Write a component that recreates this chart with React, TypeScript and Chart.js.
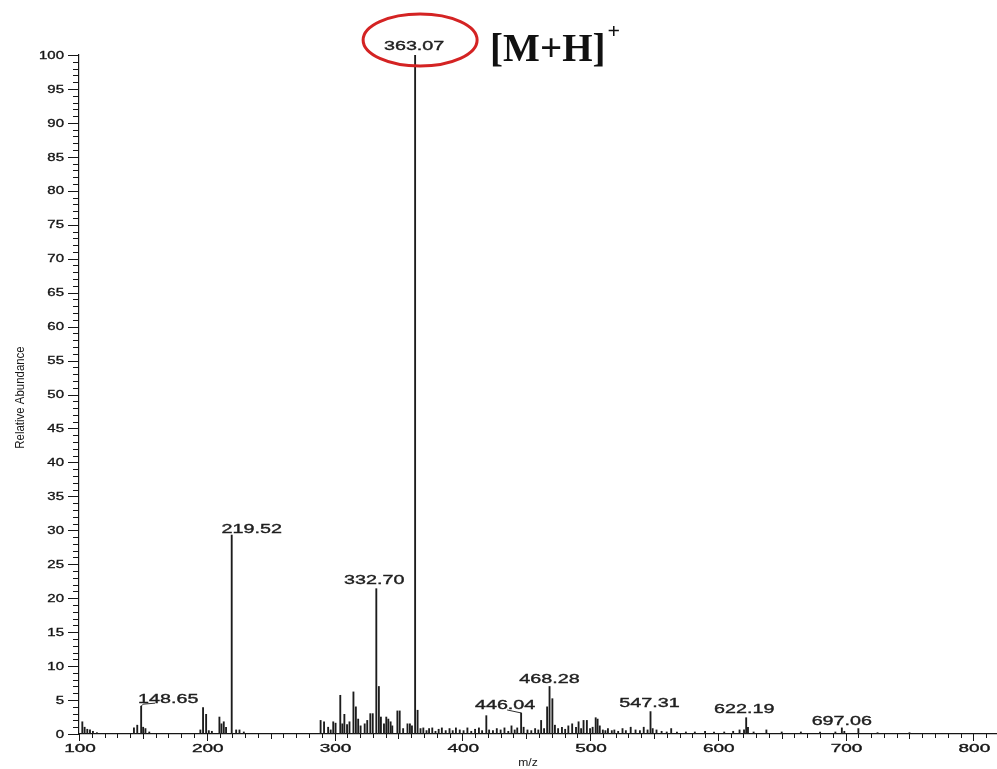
import { useEffect, useRef } from "react";
import { Chart, registerables } from "chart.js";

Chart.register(...registerables);

// ---- spectrum data (m/z, relative abundance %) ----
const mzValues: number[] = [
  102.6, 104.4, 106.5, 108.6, 110.9, 114.0,
  143.0, 145.6, 148.65, 150.2, 152.0, 155.0,
  195.0, 197.1, 199.5, 201.6, 204.0, 209.9, 211.5, 213.3, 215.1, 219.52, 223.0, 225.6, 229.0,
  289.1, 291.8, 295.0, 297.0, 299.0, 300.8, 304.5, 306.1, 307.7, 309.8, 311.7, 314.8, 316.7,
  318.5, 320.4, 323.6, 325.6, 328.0, 329.9, 332.7, 334.7, 336.3, 338.7, 340.5, 342.1, 343.9,
  345.2, 349.2, 351.0, 353.7, 357.1, 359.0, 360.6, 363.07, 365.0, 367.3, 369.5, 372.0, 374.0,
  376.5, 379.0, 381.5, 384.0, 387.0, 390.0, 392.5, 395.0, 398.0, 401.0, 404.0, 407.0, 410.0,
  413.0, 415.5, 418.8, 421.0, 424.0, 427.0, 430.0, 433.0, 436.0, 438.5, 441.0, 443.0, 446.04,
  448.0, 451.0, 454.0, 457.0, 459.5, 461.7, 464.0, 466.4, 468.28, 470.5, 472.5, 475.0, 478.0,
  480.5, 483.0, 486.0, 489.0, 491.0, 493.0, 494.9, 497.5, 500.0, 502.0, 504.4, 505.9, 507.6,
  510.0, 512.0, 514.0, 517.0, 519.0, 522.0, 525.4, 528.0, 531.8, 535.6, 539.0, 542.0, 545.0,
  547.31, 549.0, 552.0, 556.0, 560.0, 563.5, 568.0, 575.0, 582.0, 590.0, 597.0, 605.0, 612.0,
  617.0, 620.5, 622.19, 623.6, 628.0, 638.0, 650.0, 665.0, 680.0, 692.0, 697.06, 699.0, 710.0,
  725.0, 750.0,
];

const abundance: number[] = [
  1.8, 1.0, 0.7, 0.6, 0.4, 0.2,
  0.9, 1.3, 4.1, 1.0, 0.8, 0.3,
  0.6, 3.9, 2.9, 0.5, 0.4, 2.5, 1.5, 1.8, 1.0, 29.3, 0.6, 0.6, 0.3,
  2.0, 1.8, 1.0, 0.6, 1.8, 1.6, 5.7, 1.5, 2.9, 1.4, 1.8, 6.2, 4.0,
  2.2, 1.2, 1.5, 2.0, 3.0, 3.0, 21.4, 7.0, 2.5, 1.5, 2.5, 2.2, 1.8,
  1.2, 3.4, 3.4, 0.8, 1.5, 1.5, 1.2, 100, 3.5, 0.8, 0.9, 0.5, 0.8,
  0.9, 0.4, 0.7, 0.9, 0.5, 0.8, 0.5, 0.9, 0.6, 0.5, 0.9, 0.4, 0.7,
  0.9, 0.5, 2.7, 0.6, 0.5, 0.8, 0.6, 0.9, 0.4, 1.2, 0.6, 0.9, 3.1,
  1.0, 0.6, 0.5, 0.8, 0.6, 2.0, 0.8, 4.0, 7.0, 5.2, 1.3, 0.8, 1.0,
  0.7, 1.2, 1.5, 1.0, 1.8, 0.8, 2.0, 2.0, 0.8, 1.0, 2.4, 2.2, 1.2,
  0.6, 0.5, 0.8, 0.5, 0.6, 0.4, 0.8, 0.5, 1.0, 0.6, 0.5, 1.0, 0.6,
  3.3, 0.8, 0.6, 0.4, 0.3, 0.8, 0.3, 0.3, 0.3, 0.4, 0.3, 0.3, 0.4,
  0.6, 0.6, 2.4, 1.0, 0.3, 0.6, 0.3, 0.3, 0.3, 0.3, 0.9, 0.4, 0.8,
  0.2, 0.2,
];

// annotated peaks
const labeledMz: number[] = [148.65, 219.52, 332.7, 363.07, 446.04, 468.28, 547.31, 622.19, 697.06];
const labeledText: string[] = ["148.65", "219.52", "332.70", "363.07", "446.04", "468.28", "547.31", "622.19", "697.06"];

// axis tick labels
const yTickLabels: string[] = ["0", "5", "10", "15", "20", "25", "30", "35", "40", "45", "50", "55", "60", "65", "70", "75", "80", "85", "90", "95", "100"];
const xTickLabels: string[] = ["100", "200", "300", "400", "500", "600", "700", "800"];

const ionLabel = "[M+H]";
const ionCharge = "+";

// ---- styling / layout ----
const INK = "#161616";
const LABEL_FONT = "12.5px 'Liberation Sans', Arial, sans-serif";
const TICK_FONT = "11.5px 'Liberation Sans', Arial, sans-serif";

// pixel offsets of each peak label centre from its peak top
const labelOffsets: Record<string, [number, number, boolean]> = {
  "148.65": [27, -7, true],
  "219.52": [20, -6, false],
  "332.70": [-2, -8, false],
  "363.07": [-1, -8, false],
  "446.04": [-16, -7, true],
  "468.28": [0, -7, false],
  "547.31": [-1, -8, false],
  "622.19": [-2, -8, false],
  "697.06": [0, -6, false],
};

// draws text stretched horizontally, with a hairline outline for a heavier stroke
function stretchedText(
  ctx: CanvasRenderingContext2D,
  text: string,
  x: number,
  y: number,
  sx: number,
  align: CanvasTextAlign
) {
  ctx.save();
  ctx.translate(x, y);
  ctx.scale(sx, 1);
  ctx.textAlign = align;
  ctx.textBaseline = "middle";
  ctx.fillText(text, 0, 0);
  ctx.lineWidth = 0.35;
  ctx.strokeStyle = ctx.fillStyle as string;
  ctx.strokeText(text, 0, 0);
  ctx.restore();
}

const spectrumDecor = {
  id: "spectrumDecor",
  afterDraw(chart: any) {
    const { ctx, chartArea } = chart;
    const xs = chart.scales.x;
    const ys = chart.scales.y;
    ctx.save();
    ctx.strokeStyle = INK;
    ctx.fillStyle = INK;
    ctx.lineWidth = 1;

    // y-axis ticks: minor every 1, major every 5
    const left = chartArea.left;
    ctx.beginPath();
    for (let v = 0; v <= 100; v++) {
      const py = Math.round(ys.getPixelForValue(v)) + 0.5;
      const len = v % 5 === 0 ? 11 : 6;
      ctx.moveTo(left - len, py);
      ctx.lineTo(left, py);
    }
    ctx.stroke();

    ctx.font = TICK_FONT;
    yTickLabels.forEach((t) => {
      const py = ys.getPixelForValue(Number(t));
      stretchedText(ctx, t, left - 15, py + 0.5, 1.3, "right");
    });

    // x-axis ticks: minor every 10, major every 100
    const bottom = chartArea.bottom;
    ctx.beginPath();
    for (let v = 100; v <= xs.max; v += 10) {
      const px = Math.round(xs.getPixelForValue(v)) + 0.5;
      const len = v % 100 === 0 ? 7 : v % 50 === 0 ? 5 : 4;
      ctx.moveTo(px, bottom);
      ctx.lineTo(px, bottom + len);
    }
    ctx.stroke();

    xTickLabels.forEach((t) => {
      const px = xs.getPixelForValue(Number(t));
      stretchedText(ctx, t, px + 1, bottom + 15, 1.65, "center");
    });

    // axis titles
    ctx.font = "11px 'Liberation Sans', Arial, sans-serif";
    ctx.textAlign = "center";
    ctx.textBaseline = "middle";
    ctx.save();
    ctx.translate((chartArea.left + chartArea.right) / 2 - 10, bottom + 29);
    ctx.scale(1.1, 1);
    ctx.fillText("m/z", 0, 0);
    ctx.restore();

    ctx.save();
    ctx.translate(20, (chartArea.top + bottom) / 2 + 3);
    ctx.rotate(-Math.PI / 2);
    ctx.font = "13px 'Liberation Sans', Arial, sans-serif";
    ctx.scale(0.88, 1);
    ctx.textAlign = "center";
    ctx.textBaseline = "middle";
    ctx.fillText("Relative Abundance", 0, 0);
    ctx.restore();

    // peak labels
    ctx.font = LABEL_FONT;
    labeledMz.forEach((mz, i) => {
      const text = labeledText[i];
      const idx = mzValues.indexOf(mz);
      const px = xs.getPixelForValue(mz);
      const top = ys.getPixelForValue(abundance[idx]);
      const [dx, dy, leader] = labelOffsets[text];
      const cx = px + dx;
      const cy = top + dy;
      ctx.fillStyle = "#202020";
      stretchedText(ctx, text, cx, cy, 1.58, "center");
      if (leader) {
        ctx.beginPath();
        ctx.lineWidth = 0.9;
        ctx.strokeStyle = INK;
        if (dx > 0) {
          ctx.moveTo(px, top);
          ctx.lineTo(px + 2, cy + 5);
          ctx.lineTo(px + 14, cy + 4);
        } else {
          ctx.moveTo(cx + 2, cy + 4);
          ctx.lineTo(px, top);
        }
        ctx.stroke();
      }
    });

    // molecular ion highlight
    const basePx = xs.getPixelForValue(363.07);
    const basePy = ys.getPixelForValue(100);
    ctx.beginPath();
    ctx.strokeStyle = "#d42323";
    ctx.lineWidth = 3;
    ctx.ellipse(basePx + 5, basePy - 15, 57, 26, 0, 0, Math.PI * 2);
    ctx.stroke();

    ctx.fillStyle = "#111";
    ctx.font = "bold 39px 'Liberation Serif', 'Times New Roman', serif";
    ctx.textAlign = "left";
    ctx.textBaseline = "alphabetic";
    const tx = basePx + 75;
    ctx.fillText(ionLabel, tx, basePy + 6);
    const w = ctx.measureText(ionLabel).width;
    ctx.font = "bold 22px 'Liberation Serif', 'Times New Roman', serif";
    ctx.fillText(ionCharge, tx + w + 2, basePy - 17);

    ctx.restore();
  },
};

export default function App() {
  const canvasRef = useRef<HTMLCanvasElement | null>(null);

  useEffect(() => {
    const canvas = canvasRef.current;
    if (!canvas) return;
    const chart = new Chart(canvas, {
      type: "bar",
      data: {
        datasets: [
          {
            label: "spectrum",
            data: mzValues.map((m, i) => ({ x: m, y: abundance[i] })),
            backgroundColor: "#1c1c1c",
            borderWidth: 0,
            barThickness: 1.2,
          },
        ],
      },
      options: {
        animation: false,
        responsive: false,
        maintainAspectRatio: false,
        devicePixelRatio: 1,
        layout: { padding: { top: 55, left: 0, right: 0, bottom: 0 } },
        plugins: { legend: { display: false }, tooltip: { enabled: false } },
        scales: {
          x: {
            type: "linear",
            min: 100,
            max: 818.5,
            offset: false,
            ticks: { display: false },
            grid: { display: false, drawTicks: false, offset: false },
            border: { display: true, color: INK, width: 1.2 },
            afterFit: (s: any) => {
              s.height = 35;
            },
          },
          y: {
            min: 0,
            max: 100,
            ticks: { display: false },
            grid: { display: false, drawTicks: false },
            border: { display: true, color: INK, width: 1.2 },
            afterFit: (s: any) => {
              s.width = 79;
            },
          },
        },
      },
      plugins: [spectrumDecor],
    });
    return () => chart.destroy();
  }, []);

  return (
    <div style={{ position: "fixed", left: 0, top: 0, width: 997, height: 769, background: "#fff" }}>
      <canvas ref={canvasRef} width={997} height={769} style={{ display: "block" }} />
    </div>
  );
}
